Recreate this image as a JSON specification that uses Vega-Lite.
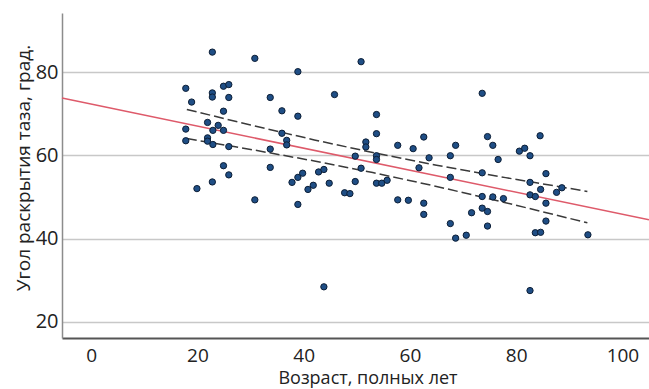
{
  "$schema": "https://vega.github.io/schema/vega-lite/v6.json",
  "width": 587,
  "height": 325,
  "autosize": {"type": "none"},
  "padding": {"left": 62, "top": 13, "right": 0, "bottom": 51},
  "background": "white",
  "config": {"view": {"stroke": null}, "font": "Open Sans"},
  "datasets": {
    "points": [
      {"age": 17.8, "val": 76.1}, {"age": 18.9, "val": 72.8}, {"age": 17.8, "val": 66.3}, {"age": 17.8, "val": 63.5},
      {"age": 19.9, "val": 52.0}, {"age": 21.9, "val": 67.9}, {"age": 21.9, "val": 64.2}, {"age": 21.9, "val": 63.4},
      {"age": 22.8, "val": 84.8}, {"age": 22.8, "val": 75.0}, {"age": 22.8, "val": 74.0}, {"age": 22.9, "val": 66.0},
      {"age": 22.9, "val": 62.6}, {"age": 22.8, "val": 53.6}, {"age": 23.9, "val": 67.2}, {"age": 24.9, "val": 76.6},
      {"age": 24.9, "val": 70.6}, {"age": 24.9, "val": 66.0}, {"age": 24.9, "val": 57.5}, {"age": 25.9, "val": 77.0},
      {"age": 25.9, "val": 73.9}, {"age": 25.9, "val": 62.1}, {"age": 25.9, "val": 55.3}, {"age": 30.8, "val": 83.3},
      {"age": 30.8, "val": 49.3}, {"age": 33.7, "val": 73.9}, {"age": 33.7, "val": 61.5}, {"age": 33.7, "val": 57.1},
      {"age": 35.9, "val": 70.7}, {"age": 35.9, "val": 65.3}, {"age": 36.8, "val": 63.6}, {"age": 36.8, "val": 62.5},
      {"age": 37.8, "val": 53.5}, {"age": 38.9, "val": 80.1}, {"age": 38.9, "val": 69.4}, {"age": 38.9, "val": 54.7},
      {"age": 38.9, "val": 48.2}, {"age": 39.8, "val": 55.7}, {"age": 40.8, "val": 51.8}, {"age": 41.8, "val": 52.8},
      {"age": 42.8, "val": 56.0}, {"age": 43.8, "val": 56.6}, {"age": 43.8, "val": 28.4}, {"age": 44.8, "val": 53.3},
      {"age": 45.8, "val": 74.6}, {"age": 47.7, "val": 51.0}, {"age": 48.7, "val": 50.8}, {"age": 49.7, "val": 59.8},
      {"age": 49.7, "val": 53.7}, {"age": 50.8, "val": 82.5}, {"age": 50.8, "val": 56.9}, {"age": 51.7, "val": 63.2},
      {"age": 51.7, "val": 62.0}, {"age": 53.7, "val": 69.8}, {"age": 53.7, "val": 65.2}, {"age": 53.7, "val": 59.9},
      {"age": 53.7, "val": 59.0}, {"age": 53.7, "val": 53.3}, {"age": 54.7, "val": 53.3}, {"age": 55.7, "val": 54.0},
      {"age": 57.7, "val": 62.4}, {"age": 57.7, "val": 49.3}, {"age": 59.7, "val": 49.2}, {"age": 60.6, "val": 61.6},
      {"age": 61.7, "val": 57.0}, {"age": 62.6, "val": 64.4}, {"age": 62.6, "val": 48.5}, {"age": 62.6, "val": 45.8},
      {"age": 63.6, "val": 59.4}, {"age": 67.6, "val": 59.9}, {"age": 67.6, "val": 54.7}, {"age": 67.6, "val": 43.6},
      {"age": 68.6, "val": 62.4}, {"age": 68.6, "val": 40.1}, {"age": 70.6, "val": 40.8}, {"age": 71.6, "val": 46.2},
      {"age": 73.6, "val": 74.9}, {"age": 73.6, "val": 55.8}, {"age": 73.6, "val": 50.1}, {"age": 73.6, "val": 47.3},
      {"age": 74.6, "val": 64.5}, {"age": 74.6, "val": 46.5}, {"age": 74.6, "val": 43.0}, {"age": 75.6, "val": 62.4},
      {"age": 75.6, "val": 50.0}, {"age": 76.6, "val": 59.0}, {"age": 77.6, "val": 49.6}, {"age": 80.6, "val": 61.0},
      {"age": 81.6, "val": 61.7}, {"age": 82.6, "val": 59.9}, {"age": 82.6, "val": 53.5}, {"age": 82.6, "val": 50.5},
      {"age": 82.6, "val": 27.5}, {"age": 83.6, "val": 50.1}, {"age": 83.6, "val": 41.4}, {"age": 84.5, "val": 64.7},
      {"age": 84.6, "val": 51.8}, {"age": 84.6, "val": 41.5}, {"age": 85.6, "val": 55.6}, {"age": 85.6, "val": 48.5},
      {"age": 85.6, "val": 44.2}, {"age": 87.6, "val": 51.1}, {"age": 88.6, "val": 52.2}, {"age": 93.5, "val": 40.9}
    ],
    "fit": [{"age": -5.5, "val": 73.76}, {"age": 105, "val": 44.5}],
    "ci": [
      {"age": 18, "val": 71.03, "band": "upper"}, {"age": 30, "val": 67.28, "band": "upper"},
      {"age": 42, "val": 63.7, "band": "upper"}, {"age": 53, "val": 60.66, "band": "upper"},
      {"age": 65, "val": 57.63, "band": "upper"}, {"age": 78, "val": 54.64, "band": "upper"},
      {"age": 93.4, "val": 51.32, "band": "upper"},
      {"age": 18, "val": 64.03, "band": "lower"}, {"age": 30, "val": 61.42, "band": "lower"},
      {"age": 42, "val": 58.64, "band": "lower"}, {"age": 53, "val": 55.86, "band": "lower"},
      {"age": 65, "val": 52.53, "band": "lower"}, {"age": 78, "val": 48.62, "band": "lower"},
      {"age": 93.4, "val": 43.78, "band": "lower"}
    ]
  },
  "layer": [
    {
      "data": {"name": "fit"},
      "mark": {"type": "line", "color": "#de5a6a", "strokeWidth": 1.5},
      "encoding": {
        "x": {
          "field": "age", "type": "quantitative",
          "scale": {"domain": [-5.5, 105], "nice": false, "zero": false},
          "axis": {
            "values": [0, 20, 40, 60, 80, 100], "grid": false, "ticks": false, "tickSize": 0,
            "labelPadding": 8, "labelFontSize": 19, "labelColor": "#222222", "labelFlush": false,
            "domainColor": "#555555", "domainWidth": 2,
            "title": "Возраст, полных лет", "titleFontSize": 18, "titleFontWeight": "normal",
            "titleColor": "#222222", "titleX": 305.5, "titleY": 45.5, "titleBaseline": "alphabetic", "titleAlign": "center"
          }
        },
        "y": {
          "field": "val", "type": "quantitative",
          "scale": {"domain": [16.1, 94.2], "nice": false, "zero": false},
          "axis": {
            "values": [20, 40, 60, 80], "grid": true, "gridColor": "#c8c8c8", "gridWidth": 1.5,
            "ticks": false, "tickSize": 0, "labelPadding": 4, "labelFontSize": 20, "labelColor": "#222222",
            "domainColor": "#8c8c8c", "domainWidth": 1.5,
            "title": "Угол раскрытия таза, град.", "titleFontSize": 19, "titleFontWeight": "normal",
            "titleColor": "#222222", "titleX": -33, "titleY": 154.5, "titleAngle": -90,
            "titleBaseline": "alphabetic", "titleAlign": "center"
          }
        }
      }
    },
    {
      "data": {"name": "ci"},
      "mark": {"type": "line", "color": "#3a3a3a", "strokeWidth": 1.5, "strokeDash": [10, 4]},
      "encoding": {
        "x": {"field": "age", "type": "quantitative"},
        "y": {"field": "val", "type": "quantitative"},
        "detail": {"field": "band", "type": "nominal"}
      }
    },
    {
      "data": {"name": "points"},
      "mark": {"type": "circle", "size": 40, "fill": "#1f4e85", "stroke": "#0c1e36", "strokeWidth": 1, "opacity": 1},
      "encoding": {
        "x": {"field": "age", "type": "quantitative"},
        "y": {"field": "val", "type": "quantitative"}
      }
    }
  ]
}
